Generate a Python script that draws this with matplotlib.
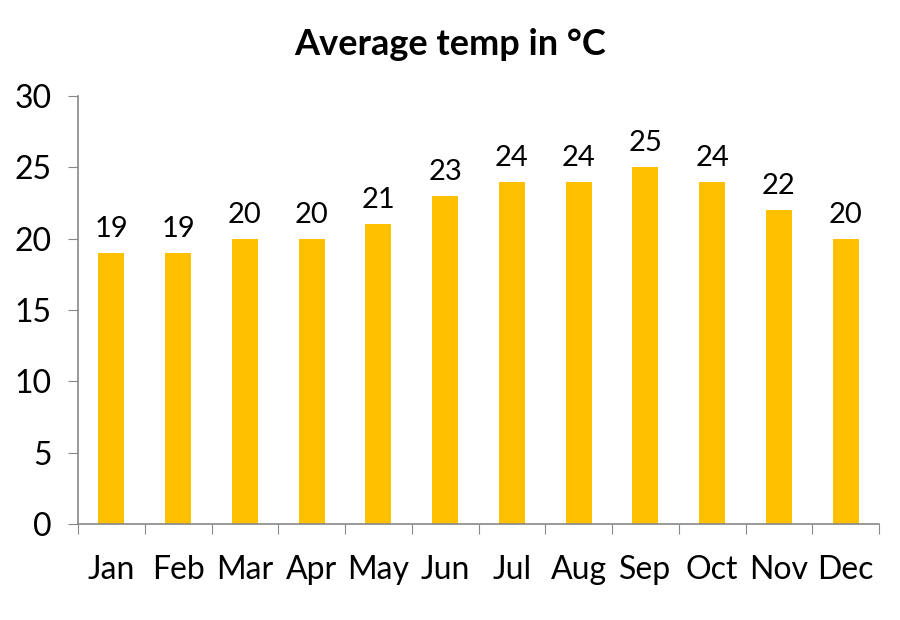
import matplotlib.pyplot as plt
import numpy as np

months = ['Jan', 'Feb', 'Mar', 'Apr', 'May', 'Jun', 'Jul', 'Aug', 'Sep', 'Oct', 'Nov', 'Dec']
temps = [19, 19, 20, 20, 21, 23, 24, 24, 25, 24, 22, 20]

plt.rcParams['font.family'] = ['Lato', 'DejaVu Sans']
fig = plt.figure(figsize=(9, 6.2), dpi=100)
ax = fig.add_axes([0.0867, 0.1548, 0.89, 0.6903])

x = np.arange(len(months))
bars = ax.bar(x, temps, width=0.39, color='#FFC000')
for b, v in zip(bars, temps):
    ax.annotate(str(v), (b.get_x() + b.get_width() / 2, v), xytext=(0, 8),
                textcoords='offset points', ha='center', va='bottom', fontsize=21)

ax.set_xlim(-0.5, len(months) - 0.5)
ax.set_ylim(0, 30)
ax.set_yticks(range(0, 31, 5))
ax.tick_params(axis='y', labelsize=23, length=7, color='#888888', pad=12)

# ticks sit between the months, labels at the centres
ax.set_xticks(np.arange(-0.5, len(months), 1))
ax.set_xticklabels([])
ax.set_xticks(x, minor=True)
ax.set_xticklabels(months, minor=True)
ax.tick_params(axis='x', which='major', length=7, color='#888888')
ax.tick_params(axis='x', which='minor', length=0, labelsize=23, pad=22)

for s in ['top', 'right']:
    ax.spines[s].set_visible(False)
for s in ['left', 'bottom']:
    ax.spines[s].set_color('#888888')
    ax.spines[s].set_linewidth(1.2)

fig.suptitle('Average temp in °C', fontsize=26, fontweight='bold', y=0.955)
fig.savefig('out.png', dpi=100)
